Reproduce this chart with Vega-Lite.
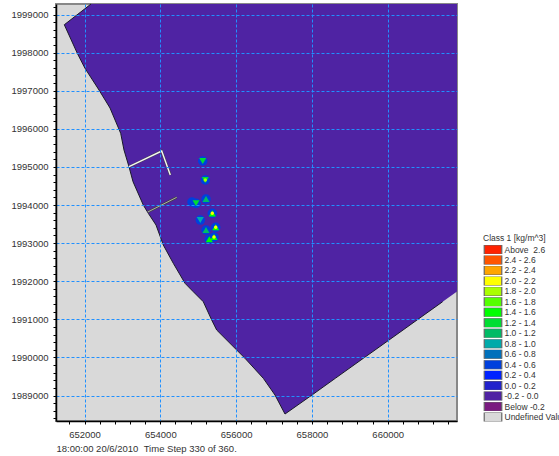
{
"$schema":"https://vega.github.io/schema/vega-lite/v6.json",
"width":401,"height":417,
"autosize":{"type":"none"},
"padding":{"left":56,"top":4,"right":102,"bottom":35},
"background":"#ffffff",
"view":{"fill":"#d9d9d9","stroke":"#888888","strokeWidth":2},
"datasets":{
"domain":[
{"northing":1999276,"west":652172,"east":661828},
{"northing":1998732,"west":651467,"east":661828},
{"northing":1997982,"west":651810,"east":661828},
{"northing":1997588,"west":652013,"east":661828},
{"northing":1997018,"west":652383,"east":661828},
{"northing":1996546,"west":652673,"east":661828},
{"northing":1995882,"west":652955,"east":661828},
{"northing":1995444,"west":653042,"east":661828},
{"northing":1995005,"west":653174,"east":661828},
{"northing":1994612,"west":653280,"east":661828},
{"northing":1994000,"west":653551,"east":661828},
{"northing":1993782,"west":653683,"east":661828},
{"northing":1993475,"west":653887,"east":661828},
{"northing":1992950,"west":654079,"east":661828},
{"northing":1992470,"west":654343,"east":661828},
{"northing":1991945,"west":654652,"east":661828},
{"northing":1991732,"west":654863,"east":661828},
{"northing":1991462,"west":655134,"east":661449},
{"northing":1990982,"west":655356,"east":660773},
{"northing":1990719,"west":655488,"east":660404},
{"northing":1990194,"west":656016,"east":659665},
{"northing":1989976,"west":656235,"east":659356},
{"northing":1989451,"west":656718,"east":658617},
{"northing":1989013,"west":657026,"east":658002},
{"northing":1988514,"west":657290,"east":657290}
],
"groynes":[
{"name":"north","e":653174,"n":1995005},
{"name":"north","e":654037,"n":1995417},
{"name":"north","e":654264,"n":1994787},
{"name":"south","e":653668,"n":1993816},
{"name":"south","e":654433,"n":1994202}
],
"spots":[
{"e":655119,"n":1995155,"class":"\u00a0\u00a0\u00a00.4 - 0.6","form":"round"},
{"e":655187,"n":1994656,"class":"\u00a0\u00a0\u00a00.4 - 0.6","form":"round"},
{"e":655206,"n":1994157,"class":"\u00a0\u00a0\u00a00.4 - 0.6","form":"round"},
{"e":654942,"n":1994045,"class":"\u00a0\u00a0\u00a00.4 - 0.6","form":"round"},
{"e":654836,"n":1994079,"class":"\u00a0\u00a0\u00a00.4 - 0.6","form":"round"},
{"e":655372,"n":1993782,"class":"\u00a0\u00a0\u00a00.4 - 0.6","form":"round"},
{"e":655055,"n":1993606,"class":"\u00a0\u00a0\u00a00.4 - 0.6","form":"round"},
{"e":655206,"n":1993344,"class":"\u00a0\u00a0\u00a00.4 - 0.6","form":"round"},
{"e":655462,"n":1993415,"class":"\u00a0\u00a0\u00a00.4 - 0.6","form":"round"},
{"e":655417,"n":1993160,"class":"\u00a0\u00a0\u00a00.4 - 0.6","form":"round"},
{"e":655293,"n":1993100,"class":"\u00a0\u00a0\u00a00.4 - 0.6","form":"round"},
{"e":655119,"n":1995155,"class":"\u00a0\u00a0\u00a01.2 - 1.4","form":"down"},
{"e":655187,"n":1994656,"class":"\u00a0\u00a0\u00a01.2 - 1.4","form":"down"},
{"e":655206,"n":1994157,"class":"\u00a0\u00a0\u00a01.0 - 1.2","form":"up"},
{"e":654942,"n":1994045,"class":"\u00a0\u00a0\u00a01.2 - 1.4","form":"down"},
{"e":655372,"n":1993782,"class":"\u00a0\u00a0\u00a01.4 - 1.6","form":"up"},
{"e":655055,"n":1993606,"class":"\u00a0\u00a0\u00a00.8 - 1.0","form":"down"},
{"e":655206,"n":1993344,"class":"\u00a0\u00a0\u00a01.0 - 1.2","form":"up"},
{"e":655462,"n":1993415,"class":"\u00a0\u00a0\u00a01.4 - 1.6","form":"up"},
{"e":655417,"n":1993160,"class":"\u00a0\u00a0\u00a01.4 - 1.6","form":"up"},
{"e":655293,"n":1993100,"class":"\u00a0\u00a0\u00a01.4 - 1.6","form":"up"},
{"e":655187,"n":1994656,"class":"\u00a0\u00a0\u00a01.8 - 2.0","form":"round"},
{"e":655372,"n":1993782,"class":"\u00a0\u00a0\u00a02.0 - 2.2","form":"round"},
{"e":655462,"n":1993415,"class":"\u00a0\u00a0\u00a02.0 - 2.2","form":"round"},
{"e":655417,"n":1993160,"class":"\u00a0\u00a0\u00a02.0 - 2.2","form":"round"}
]
},
"layer":[
{
"data":{"name":"domain"},
"mark":{"type":"area","orient":"horizontal","color":"#4f23a3"},
"encoding":{
"y":{"field":"northing","type":"quantitative","scale":{"domain":[1988331,1999276],"nice":false,"zero":false},
"axis":{"title":null,"zindex":1,"tickCount":100,"values":[1988400,1988600,1988800,1989000,1989200,1989400,1989600,1989800,1990000,1990200,1990400,1990600,1990800,1991000,1991200,1991400,1991600,1991800,1992000,1992200,1992400,1992600,1992800,1993000,1993200,1993400,1993600,1993800,1994000,1994200,1994400,1994600,1994800,1995000,1995200,1995400,1995600,1995800,1996000,1996200,1996400,1996600,1996800,1997000,1997200,1997400,1997600,1997800,1998000,1998200,1998400,1998600,1998800,1999000,1999200],
"labelExpr":"datum.value % 1000 == 0 ? format(datum.value,'d') : ''","labelOverlap":false,"labelFlush":false,"labelFont":"Liberation Sans","labelFontSize":9.5,"labelColor":"#333333","labelPadding":5,"tickColor":"#000000","tickSize":3,"domainColor":"#000000","domainWidth":1.5,"grid":true,"gridColor":"#2090ff","gridDash":[3,2],"gridWidth":1,"gridOpacity":{"condition":{"test":"datum.value % 1000 == 0","value":1},"value":0}}},
"x":{"field":"west","type":"quantitative","scale":{"domain":[651248,661828],"nice":false,"zero":false},
"axis":{"title":"18:00:00 20/6/2010\u00a0\u00a0Time Step 330 of 360.","titleX":0,"titleY":22,"titleAlign":"left","titleAnchor":"start","titleFont":"Liberation Sans","titleFontSize":9.5,"titleFontWeight":"normal","titleColor":"#333333","zindex":1,"tickCount":100,"values":[651600,652000,652400,652800,653200,653600,654000,654400,654800,655200,655600,656000,656400,656800,657200,657600,658000,658400,658800,659200,659600,660000,660400,660800,661200,661600],
"labelExpr":"datum.value % 2000 == 0 ? format(datum.value,'d') : ''","labelOverlap":false,"labelFlush":false,"labelFont":"Liberation Sans","labelFontSize":9.5,"labelColor":"#333333","labelPadding":5,"tickColor":"#000000","tickSize":3,"domainColor":"#000000","domainWidth":1.5,"grid":true,"gridColor":"#2090ff","gridDash":[3,2],"gridWidth":1,"gridOpacity":{"condition":{"test":"datum.value % 2000 == 0","value":1},"value":0}}},
"x2":{"field":"east"}
}
},
{
"data":{"name":"domain"},
"mark":{"type":"line","color":"#1a1a2a","strokeWidth":1},
"encoding":{"x":{"field":"west","type":"quantitative"},"y":{"field":"northing","type":"quantitative"},"order":{"field":"northing","sort":"descending"}}
},
{
"data":{"name":"domain"},
"transform":[{"filter":"datum.east < 661828"}],
"mark":{"type":"line","color":"#1a1a2a","strokeWidth":1},
"encoding":{"x":{"field":"east","type":"quantitative"},"y":{"field":"northing","type":"quantitative"},"order":{"field":"northing","sort":"descending"}}
},
{
"data":{"name":"groynes"},
"mark":{"type":"line","color":"#444444","strokeWidth":2.4},
"encoding":{"x":{"field":"e","type":"quantitative"},"y":{"field":"n","type":"quantitative"},"detail":{"field":"name"}}
},
{
"data":{"name":"groynes"},
"transform":[{"filter":"datum.name == 'north'"}],
"mark":{"type":"line","color":"#f4f4f4","strokeWidth":1.4},
"encoding":{"x":{"field":"e","type":"quantitative"},"y":{"field":"n","type":"quantitative"}}
},
{
"data":{"name":"groynes"},
"transform":[{"filter":"datum.name == 'south'"}],
"mark":{"type":"line","color":"#aaaaaa","strokeWidth":1},
"encoding":{"x":{"field":"e","type":"quantitative"},"y":{"field":"n","type":"quantitative"}}
},
{
"data":{"name":"spots"},
"transform":[{"filter":"datum.form == 'round' && indexof(datum.class,'0.4') >= 0"}],
"mark":{"type":"circle","opacity":1,"size":90},
"encoding":{
"x":{"field":"e","type":"quantitative"},
"y":{"field":"n","type":"quantitative"},
"color":{"field":"class","type":"nominal","sort":null,
"scale":{"domain":["Above\u00a0\u00a02.6","\u00a0\u00a0\u00a02.4 - 2.6","\u00a0\u00a0\u00a02.2 - 2.4","\u00a0\u00a0\u00a02.0 - 2.2","\u00a0\u00a0\u00a01.8 - 2.0","\u00a0\u00a0\u00a01.6 - 1.8","\u00a0\u00a0\u00a01.4 - 1.6","\u00a0\u00a0\u00a01.2 - 1.4","\u00a0\u00a0\u00a01.0 - 1.2","\u00a0\u00a0\u00a00.8 - 1.0","\u00a0\u00a0\u00a00.6 - 0.8","\u00a0\u00a0\u00a00.4 - 0.6","\u00a0\u00a0\u00a00.2 - 0.4","\u00a0\u00a0\u00a00.0 - 0.2","\u00a0\u00a0-0.2 - 0.0","Below -0.2","Undefined Value"],
"range":["#ff2200","#ff5500","#ffa500","#ffff00","#aaff00","#55ff00","#00ff00","#00dd33","#00bb66","#00aaaa","#0070bb","#0040dd","#0022ff","#2222cc","#4f23a3","#7a1a80","#d9d9d9"]},
"legend":{"title":"Class 1 [kg/m^3]","orient":"none","legendX":427,"legendY":230,"padding":0,"titleFont":"Liberation Sans","titleFontSize":8.5,"titleFontWeight":"normal","titleColor":"#333333","titlePadding":2.5,"labelFont":"Liberation Sans","labelFontSize":8.5,"labelColor":"#333333","labelOffset":6,"rowPadding":1.47,"symbolType":"M-1.95,-1.05H1.95V1.05H-1.95Z","symbolSize":81,"symbolOffset":4.5,"symbolStrokeColor":"#666666","symbolStrokeWidth":1.2,"symbolOpacity":1,"clipHeight":9}}
}
},
{
"data":{"name":"spots"},
"transform":[{"filter":"datum.form != 'round'"}],
"mark":{"type":"point","filled":true,"opacity":1,"strokeWidth":0,"size":50},
"encoding":{
"x":{"field":"e","type":"quantitative"},
"y":{"field":"n","type":"quantitative"},
"shape":{"field":"form","type":"nominal","legend":null,"scale":{"domain":["up","down"],"range":["triangle-up","triangle-down"]}},
"color":{"field":"class","type":"nominal"}
}
},
{
"data":{"name":"spots"},
"transform":[{"filter":"datum.form == 'round' && indexof(datum.class,'0.4') < 0"}],
"mark":{"type":"circle","opacity":1,"size":12},
"encoding":{
"x":{"field":"e","type":"quantitative"},
"y":{"field":"n","type":"quantitative"},
"color":{"field":"class","type":"nominal"}
}
}
],
"config":{"axis":{"labelBound":false}}
}
